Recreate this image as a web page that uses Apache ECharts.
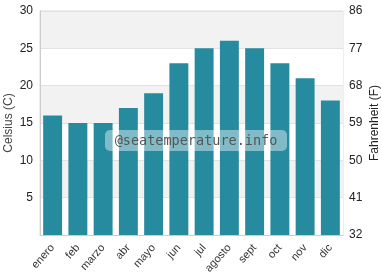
<!DOCTYPE html>
<html>
<head>
<meta charset="utf-8">
<script src="https://cdn.jsdelivr.net/npm/echarts@6/dist/echarts.min.js"></script>
<style>html,body{margin:0;padding:0;background:#fff}#c{width:382px;height:280px}</style>
</head>
<body>
<div id="c"></div>
<script>
var months = ['enero','feb','marzo','abr','mayo','jun','jul','agosto','sept','oct','nov','dic'];
var celsius = [16,15,15,17,19,23,25,26,25,23,21,18];
var celsiusTicks = [0,5,10,15,20,25,30];
var watermark = '@seatemperature.info';

var chart = echarts.init(document.getElementById('c'), null, {renderer:'canvas'});
var font = 'Liberation Sans, Arial, sans-serif';
chart.setOption({
  animation:false,
  textStyle:{fontFamily:font},
  grid:{left:40,right:39,top:11,bottom:45,outerBoundsMode:'none',containLabel:false,show:true,borderColor:'#dddddd',borderWidth:1,backgroundColor:'transparent'},
  xAxis:{
    type:'category',data:months,
    axisLine:{show:true,lineStyle:{color:'#cccccc'}},
    axisTick:{show:false},
    axisLabel:{rotate:48,color:'#333',fontSize:11,margin:11,interval:0,fontFamily:font}
  },
  yAxis:[{
    type:'value',min:celsiusTicks[0],max:celsiusTicks[celsiusTicks.length-1],interval:5,position:'left',
    name:'Celsius (C)',nameLocation:'middle',nameGap:25,nameMoveOverlap:false,nameTextStyle:{color:'#444',fontSize:12,fontFamily:font},
    axisLine:{show:true,lineStyle:{color:'#cccccc'}},
    axisTick:{show:false},
    axisLabel:{color:'#222',fontSize:12,margin:7,fontFamily:font,formatter:function(v){return v===0?'':String(v);}},
    splitLine:{show:true,lineStyle:{color:'#e2e2e2'}},
    splitArea:{show:true,areaStyle:{color:['#ffffff','#f2f2f2']}}
  },{
    type:'value',min:celsiusTicks[0],max:celsiusTicks[celsiusTicks.length-1],interval:5,position:'right',
    name:'Fahrenheit (F)',nameLocation:'middle',nameGap:26,nameMoveOverlap:false,nameTextStyle:{color:'#222',fontSize:12,fontFamily:font},
    axisLine:{show:false},
    axisTick:{show:false},
    axisLabel:{color:'#222',fontSize:12,margin:6,fontFamily:font,formatter:function(v){return String(Math.round(v*9/5+32));}},
    splitLine:{show:false}
  }],
  series:[{
    type:'bar',data:celsius,yAxisIndex:0,barWidth:'75%',
    itemStyle:{color:'#268b9f'}
  }],
  graphic:{elements:[{
      type:'rect',z:100,shape:{x:105,y:130,width:182,height:21,r:5},
      style:{fill:'rgba(255,255,255,0.42)'}
    },{
      type:'text',z:101,x:196,y:141,
      style:{text:watermark,fill:'#555555',fontSize:13.5,fontFamily:'DejaVu Sans Mono',align:'center',verticalAlign:'middle'}
    }]}
});
</script>
</body>
</html>
